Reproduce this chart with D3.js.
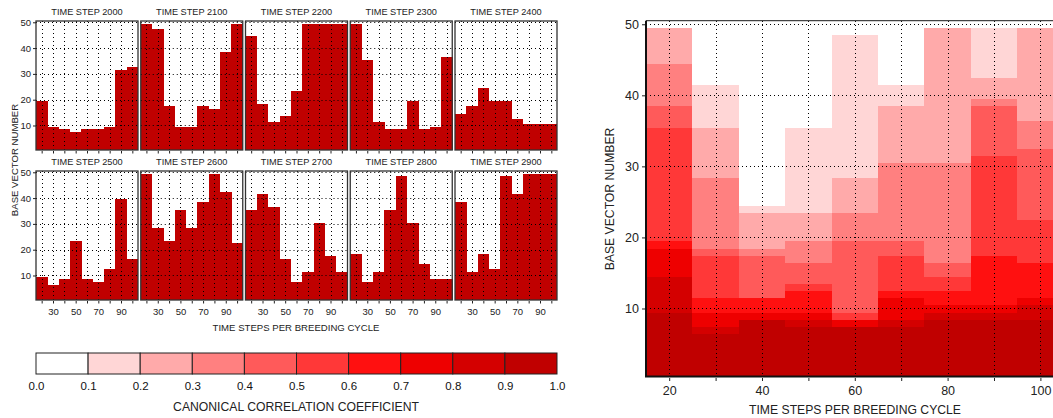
<!DOCTYPE html>
<html><head><meta charset="utf-8">
<script src="https://cdn.jsdelivr.net/npm/d3@7"></script>
<style>
html,body{margin:0;padding:0;background:#fff;}
svg{display:block;font-family:"Liberation Sans",Arial,Helvetica,sans-serif;}
</style></head>
<body><svg id="c" width="1053" height="418"></svg>
<script>
// ---------- DATA ----------
const breedingCycles = [20,30,40,50,60,70,80,90,100];       // time steps per breeding cycle
const bottomTickLabels = [30,50,70,90];
const rightXTickLabels = [20,40,60,80,100];
const baseVectorTicks = [10,20,30,40,50];
const timeSteps = [2000,2100,2200,2300,2400,2500,2600,2700,2800,2900];

// base vector number reached per breeding-cycle length, one array per time step
const step2000 = [19,9,8,7,8,8,9,31,32];
const step2100 = [49,47,17,9,9,17,16,38,49];
const step2200 = [44,18,11,13,23,49,49,49,49];
const step2300 = [49,35,11,8,8,19,8,9,36];
const step2400 = [14,17,24,19,19,12,10,10,10];
const step2500 = [9,6,8,23,8,7,12,39,16];
const step2600 = [49,28,23,35,28,38,49,42,22];
const step2700 = [35,41,36,16,7,11,30,17,11];
const step2800 = [18,7,11,35,48,30,14,8,8];
const step2900 = [38,11,18,12,48,41,49,49,49];

// canonical correlation colour classes
const ccThresholds = [0.1,0.2,0.3,0.4,0.5,0.6,0.7,0.8,0.9];
const ccTickLabels = [0.0,0.1,0.2,0.3,0.4,0.5,0.6,0.7,0.8,0.9,1.0];
const ccColors = ["#ffffff","#ffd6d6","#ffaaaa","#ff8080","#ff5a5a","#ff3838","#ff1010","#ee0000","#d40000","#c00000"];

// highest base vector whose coefficient reaches each threshold (0.1 ... 0.9), per breeding cycle
const cycle20  = [49,49,44,38,35,19,18,14,9];
const cycle30  = [41,35,28,18,17,11,9,7,6];
const cycle40  = [24,23,18,17,11,11,9,8,8];
const cycle50  = [35,23,19,16,13,12,9,8,7];
const cycle60  = [48,28,23,19,9,8,8,7,7];
const cycle70  = [41,38,30,19,17,12,11,8,7];
const cycle80  = [49,49,30,16,14,12,10,9,8];
const cycle90  = [49,42,39,38,31,17,10,9,8];
const cycle100 = [49,49,36,32,22,16,11,10,8];

// ---------- BUILD ----------
const stepSeries = [step2000,step2100,step2200,step2300,step2400,step2500,step2600,step2700,step2800,step2900];
const cycleSeries = [cycle20,cycle30,cycle40,cycle50,cycle60,cycle70,cycle80,cycle90,cycle100];
const barColor = "#c00000";
const svg = d3.select("#c");
const FONT = '"Liberation Sans",Arial,Helvetica,sans-serif';

// ----- small multiples -----
const px0 = 36, pdx = 104.75, pw = 102, ph = 129;
const rowTop = [21, 171];
timeSteps.forEach((ts, i) => {
  const col = i % 5, row = Math.floor(i / 5);
  const x0 = px0 + col * pdx, y0 = rowTop[row];
  const xs = d3.scaleLinear().domain([15,105]).range([x0, x0 + pw]);
  const ys = d3.scaleLinear().domain([0.5,50.5]).range([y0 + ph, y0]);
  const g = svg.append("g");
  g.selectAll("rect.bar").data(stepSeries[i]).join("rect")
    .attr("class","bar")
    .attr("x", (d,j) => xs(breedingCycles[j]-5))
    .attr("width", (d,j) => xs(breedingCycles[j]+5) - xs(breedingCycles[j]-5) + 0.3)
    .attr("y", d => ys(d + 0.5))
    .attr("height", d => ys(0.5) - ys(d + 0.5))
    .attr("fill", barColor)
    .attr("shape-rendering","crispEdges");
  // dotted grid
  g.selectAll("line.vg").data(breedingCycles).join("line")
    .attr("x1", d => Math.round(xs(d))+0.5).attr("x2", d => Math.round(xs(d))+0.5)
    .attr("y1", y0).attr("y2", y0 + ph)
    .attr("stroke","#000").attr("stroke-width",1).attr("stroke-dasharray","1,3");
  g.selectAll("line.hg").data(baseVectorTicks).join("line")
    .attr("y1", d => Math.round(ys(d))+0.5).attr("y2", d => Math.round(ys(d))+0.5)
    .attr("x1", x0).attr("x2", x0 + pw)
    .attr("stroke","#000").attr("stroke-width",1).attr("stroke-dasharray","1,3");
  // frame
  g.append("rect").attr("x", x0).attr("y", y0).attr("width", pw).attr("height", ph)
    .attr("fill","none").attr("stroke","#333").attr("stroke-width",1.3);
  // x axis ticks
  const xa = g.append("g").attr("transform",`translate(0,${y0+ph+1})`)
    .call(d3.axisBottom(xs).tickValues(breedingCycles).tickSize(2.5).tickPadding(5)
      .tickFormat(d => (row === 1 && bottomTickLabels.includes(d)) ? d : ""));
  xa.select(".domain").remove();
  xa.selectAll("line").attr("stroke","#222");
  xa.selectAll("text").attr("font-size", 9.5).attr("fill","#222").attr("font-family",FONT);
  if (col === 0) {
    const ya = g.append("g").attr("transform",`translate(${x0},0)`)
      .call(d3.axisLeft(ys).tickValues(baseVectorTicks).tickSize(3).tickPadding(2));
    ya.select(".domain").remove();
    ya.selectAll("line").attr("stroke","#222");
    ya.selectAll("text").attr("font-size", 9.5).attr("fill","#222").attr("font-family",FONT);
  }
  g.append("text").attr("x", x0 + pw/2).attr("y", y0 - 9.5)
    .attr("text-anchor","middle").attr("dominant-baseline","central")
    .attr("font-size", 9.2).attr("fill","#222").text("TIME STEP " + ts);
});
svg.append("text").attr("transform","translate(14,160) rotate(-90)")
  .attr("text-anchor","middle").attr("dominant-baseline","central")
  .attr("font-size", 9.6).attr("fill","#222").text("BASE VECTOR NUMBER");
svg.append("text").attr("x", 296).attr("y", 327)
  .attr("text-anchor","middle").attr("dominant-baseline","central")
  .attr("font-size", 9.6).attr("fill","#222").text("TIME STEPS PER BREEDING CYCLE");

// ----- colour bar -----
const cb = d3.scaleLinear().domain([0,1]).range([36,557]);
const cbY = 353, cbH = 21;
const levelEdges = [0].concat(ccThresholds).concat([1]);
svg.append("g").selectAll("rect").data(ccColors).join("rect")
  .attr("x", (d,i) => cb(levelEdges[i])).attr("width", (d,i) => cb(levelEdges[i+1]) - cb(levelEdges[i]))
  .attr("y", cbY).attr("height", cbH).attr("fill", d => d)
  .attr("stroke","#222").attr("stroke-width",1);
const cba = svg.append("g").attr("transform",`translate(0,${cbY+cbH})`)
  .call(d3.axisBottom(cb).tickValues(ccTickLabels).tickSize(0).tickPadding(8).tickFormat(d3.format(".1f")));
cba.select(".domain").remove();
cba.selectAll("text").attr("font-size", 11.5).attr("fill","#111").attr("font-family",FONT);
svg.append("text").attr("x", 296).attr("y", 407)
  .attr("text-anchor","middle").attr("dominant-baseline","central")
  .attr("font-size", 12.2).attr("fill","#222").text("CANONICAL CORRELATION COEFFICIENT");

// ----- heat map -----
const xR = d3.scaleLinear().domain([15,105]).range([646, 1063.6]);
const yR = d3.scaleLinear().domain([0.5,50.5]).range([376, 20.7]);
const level = d3.scaleThreshold().domain(ccThresholds).range(d3.range(10));
const cells = [];
breedingCycles.forEach((c, ci) => {
  for (let k = 1; k <= 50; k++) {
    const lv = cycleSeries[ci].filter(n => n >= k).length;
    cells.push({c, k, lv});
  }
});
const hm = svg.append("g");
hm.selectAll("rect").data(cells).join("rect")
  .attr("x", d => xR(d.c - 5)).attr("width", d => xR(d.c + 5) - xR(d.c - 5) + 0.5)
  .attr("y", d => yR(d.k + 0.5)).attr("height", d => yR(d.k - 0.5) - yR(d.k + 0.5) + 0.5)
  .attr("fill", d => ccColors[d.lv]).attr("shape-rendering","crispEdges");
hm.selectAll("line.vg").data(breedingCycles).join("line")
  .attr("x1", d => Math.round(xR(d))+0.5).attr("x2", d => Math.round(xR(d))+0.5)
  .attr("y1", 21).attr("y2", 376)
  .attr("stroke","#000").attr("stroke-width",1).attr("stroke-dasharray","1,3");
hm.selectAll("line.hg").data(baseVectorTicks).join("line")
  .attr("y1", d => Math.round(yR(d))+0.5).attr("y2", d => Math.round(yR(d))+0.5)
  .attr("x1", 646).attr("x2", 1063)
  .attr("stroke","#000").attr("stroke-width",1).attr("stroke-dasharray","1,3");
// frame
hm.append("line").attr("x1",646).attr("x2",1063).attr("y1",20.7).attr("y2",20.7).attr("stroke","#444").attr("stroke-width",1.2);
hm.append("line").attr("x1",646).attr("x2",646).attr("y1",20.7).attr("y2",377).attr("stroke","#111").attr("stroke-width",2);
hm.append("line").attr("x1",645).attr("x2",1063).attr("y1",376.5).attr("y2",376.5).attr("stroke","#111").attr("stroke-width",2);
const rx = svg.append("g").attr("transform","translate(0,378)")
  .call(d3.axisBottom(xR).tickValues(breedingCycles).tickSize(3).tickPadding(5)
    .tickFormat(d => rightXTickLabels.includes(d) ? d : ""));
rx.select(".domain").remove();
rx.selectAll("line").attr("stroke","#222");
rx.selectAll("text").attr("font-size", 12.5).attr("fill","#222").attr("font-family",FONT);
const ry = svg.append("g").attr("transform","translate(645,0)")
  .call(d3.axisLeft(yR).tickValues(baseVectorTicks).tickSize(3).tickPadding(3));
ry.select(".domain").remove();
ry.selectAll("line").attr("stroke","#222");
ry.selectAll("text").attr("font-size", 12.5).attr("fill","#222").attr("font-family",FONT);
svg.append("text").attr("transform","translate(610,199) rotate(-90)")
  .attr("text-anchor","middle").attr("dominant-baseline","central")
  .attr("font-size", 12.2).attr("fill","#222").text("BASE VECTOR NUMBER");
svg.append("text").attr("x", 855).attr("y", 410)
  .attr("text-anchor","middle").attr("dominant-baseline","central")
  .attr("font-size", 12.2).attr("fill","#222").text("TIME STEPS PER BREEDING CYCLE");
</script></body></html>
